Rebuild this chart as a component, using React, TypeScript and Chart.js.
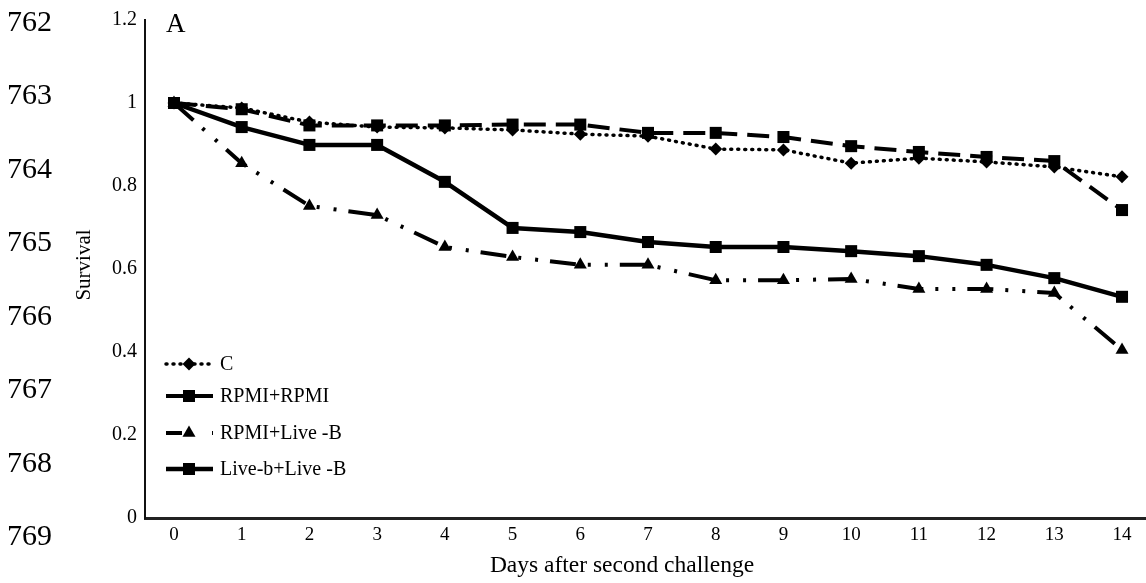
import React, { useEffect, useRef } from "react";
import { Chart, registerables } from "chart.js";

Chart.register(...registerables);

const days = [0, 1, 2, 3, 4, 5, 6, 7, 8, 9, 10, 11, 12, 13, 14];
const seriesNames = ["C", "RPMI+RPMI", "RPMI+Live -B", "Live-b+Live -B"];
const cValues = [1.0, 0.988, 0.954, 0.942, 0.94, 0.935, 0.925, 0.92, 0.889, 0.887, 0.855, 0.867, 0.858, 0.846, 0.822];
const rpmiValues = [1.0, 0.985, 0.946, 0.946, 0.946, 0.948, 0.948, 0.928, 0.928, 0.918, 0.896, 0.882, 0.87, 0.86, 0.742];
const rpmiLiveValues = [1.0, 0.855, 0.752, 0.73, 0.653, 0.629, 0.61, 0.61, 0.573, 0.573, 0.576, 0.552, 0.552, 0.542, 0.405];
const liveLiveValues = [1.0, 0.942, 0.899, 0.899, 0.81, 0.699, 0.689, 0.665, 0.653, 0.653, 0.643, 0.631, 0.61, 0.578, 0.533];
const yTicks = [0, 0.2, 0.4, 0.6, 0.8, 1, 1.2];
const lineNumbers = ["762", "763", "764", "765", "766", "767", "768", "769"];
const panelLabel = "A";
const yTitle = "Survival";
const xTitle = "Days after second challenge";

const SERIF = '"Liberation Serif", "Times New Roman", "DejaVu Serif", serif';

const styles = [
  { dash: [1, 6], cap: "round" as CanvasLineCap, width: 3.5, point: "rectRot", radius: 6.5 },
  { dash: [22, 10], cap: "butt" as CanvasLineCap, width: 4, point: "rect", radius: 8.5 },
  { dash: [26, 12, 3, 14, 3, 12], cap: "butt" as CanvasLineCap, width: 4, point: "triangle", radius: 7.5 },
  { dash: [] as number[], cap: "butt" as CanvasLineCap, width: 4.5, point: "rect", radius: 8.5 },
];

const legendYs = [364, 396, 433, 469];

const extrasPlugin = {
  id: "extras",
  afterDraw(chart: any) {
    const ctx = chart.ctx as CanvasRenderingContext2D;
    ctx.save();
    ctx.fillStyle = "#000";
    ctx.font = `30px ${SERIF}`;
    ctx.textAlign = "left";
    ctx.textBaseline = "middle";
    lineNumbers.forEach((t, i) => {
      ctx.fillText(t, 7, 23 + 73.5 * i);
    });
    ctx.font = `27px ${SERIF}`;
    ctx.fillText(panelLabel, 166, 25);
    ctx.save();
    ctx.translate(84, 265);
    ctx.rotate(-Math.PI / 2);
    ctx.font = `21px ${SERIF}`;
    ctx.textAlign = "center";
    ctx.fillText(yTitle, 0, 0);
    ctx.restore();
    ctx.font = `23.5px ${SERIF}`;
    ctx.textAlign = "center";
    ctx.fillText(xTitle, 622, 566);
    seriesNames.forEach((name, i) => {
      const st = styles[i];
      const y = legendYs[i];
      ctx.save();
      ctx.strokeStyle = "#000";
      ctx.lineWidth = st.width;
      ctx.lineCap = st.cap;
      ctx.setLineDash(i === 0 ? [1, 6] : i === 2 ? [16, 30, 2, 100] : []);
      ctx.beginPath();
      ctx.moveTo(166, y);
      ctx.lineTo(213, y);
      ctx.stroke();
      ctx.restore();
      ctx.font = `20px ${SERIF}`;
      ctx.textAlign = "left";
      ctx.textBaseline = "middle";
      ctx.fillStyle = "#000";
      ctx.fillText(name, 220, y + 1);
    });
    seriesNames.forEach((_, i) => {
      const st = styles[i];
      const y = legendYs[i];
      const x = 189;
      ctx.fillStyle = "#000";
      ctx.beginPath();
      if (st.point === "rectRot") {
        const r = st.radius;
        ctx.moveTo(x, y - r);
        ctx.lineTo(x + r, y);
        ctx.lineTo(x, y + r);
        ctx.lineTo(x - r, y);
        ctx.closePath();
      } else if (st.point === "rect") {
        const s = st.radius * Math.SQRT1_2;
        ctx.rect(x - s, y - s, 2 * s, 2 * s);
      } else {
        const r = st.radius;
        ctx.moveTo(x, y - r);
        ctx.lineTo(x + r * 0.866, y + r * 0.5);
        ctx.lineTo(x - r * 0.866, y + r * 0.5);
        ctx.closePath();
      }
      ctx.fill();
    });
    ctx.restore();
  },
};

export default function App() {
  const ref = useRef<HTMLCanvasElement | null>(null);
  useEffect(() => {
    if (!ref.current) return;
    const seriesData = [cValues, rpmiValues, rpmiLiveValues, liveLiveValues];
    const chart = new Chart(ref.current, {
      type: "line",
      data: {
        datasets: seriesNames.map((name, i) => ({
          label: name,
          data: days.map((d, j) => ({ x: d, y: seriesData[i][j] })),
          borderColor: "#000",
          backgroundColor: "#000",
          borderWidth: styles[i].width,
          borderDash: styles[i].dash,
          borderCapStyle: styles[i].cap,
          borderJoinStyle: "round",
          pointStyle: styles[i].point as any,
          pointRadius: styles[i].radius,
          pointBorderWidth: 0,
          pointBackgroundColor: "#000",
          tension: 0,
          fill: false,
          clip: false as any,
        })),
      },
      options: {
        animation: false,
        responsive: false,
        layout: { autoPadding: false, padding: { top: 20, right: 0, bottom: 0, left: 0 } },
        plugins: {
          legend: { display: false },
          tooltip: { enabled: false },
        },
        scales: {
          x: {
            type: "linear",
            min: -0.428,
            max: 14.354,
            afterFit: (s: any) => {
              s.height = 65;
              s.paddingLeft = 0;
              s.paddingRight = 0;
            },
            afterBuildTicks: (s: any) => {
              s.ticks = days.map((d) => ({ value: d }));
            },
            ticks: {
              font: { family: SERIF, size: 19 },
              color: "#000",
              padding: 6,
              maxRotation: 0,
              autoSkip: false,
              callback: (v: any) => String(v),
            },
            grid: { display: false, drawTicks: false },
            border: { display: true, color: "#222", width: 3 },
          },
          y: {
            min: 0,
            max: 1.2,
            afterFit: (s: any) => {
              s.width = 145;
              s.paddingTop = 0;
              s.paddingBottom = 0;
            },
            afterBuildTicks: (s: any) => {
              s.ticks = yTicks.map((v) => ({ value: v }));
            },
            ticks: {
              font: { family: SERIF, size: 20 },
              color: "#000",
              padding: 8,
              callback: (v: any) => String(Math.round(Number(v) * 10) / 10),
            },
            grid: { display: false, drawTicks: false },
            border: { display: true, color: "#111", width: 2 },
          },
        },
      },
      plugins: [extrasPlugin],
    });
    return () => chart.destroy();
  }, []);
  return (
    <div style={{ position: "absolute", left: 0, top: 0, width: 1146, height: 583, background: "#fff" }}>
      <canvas ref={ref} width={1146} height={583} />
    </div>
  );
}
